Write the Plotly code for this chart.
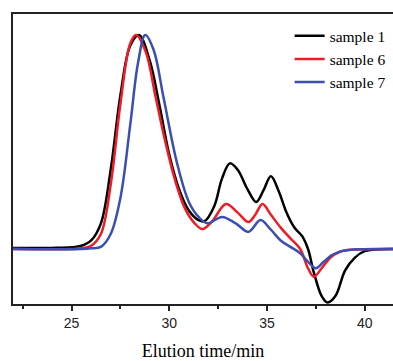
import plotly.graph_objects as go

# Data
x_s1 = [22, 24, 25, 25.5, 26, 26.5, 27, 27.5, 28, 28.45, 29, 29.5, 30, 30.5, 31, 31.5, 31.8,
        32.3, 32.7, 33.1, 33.5, 34, 34.45, 34.8, 35.2, 35.6, 36, 36.4, 36.8, 37.1, 37.4, 37.8,
        38.1, 38.5, 39, 39.5, 40, 41.5]
y_s1 = [0.005, 0.005, 0.008, 0.015, 0.04, 0.12, 0.37, 0.72, 0.95, 1.0, 0.88, 0.67, 0.44, 0.28,
        0.18, 0.135, 0.13, 0.2, 0.33, 0.40, 0.37, 0.28, 0.22, 0.27, 0.34, 0.27, 0.17, 0.10, 0.06,
        0.0, -0.11, -0.22, -0.25, -0.22, -0.10, -0.04, -0.01, 0]

x_s6 = [22, 25, 25.5, 26, 26.5, 27, 27.5, 28, 28.3, 28.8, 29.3, 29.8, 30.3, 30.8, 31.3, 31.7,
        32.2, 32.9, 33.5, 34.05, 34.4, 34.77, 35.2, 35.7, 36.2, 36.7, 37.1, 37.4, 37.8, 38.25,
        38.7, 39.1, 41.5]
y_s6 = [0, 0, 0.003, 0.015, 0.07, 0.30, 0.68, 0.96, 1.0, 0.92, 0.71, 0.50, 0.32, 0.19, 0.12,
        0.093, 0.13, 0.21, 0.17, 0.126, 0.16, 0.21, 0.16, 0.10, 0.05, 0.0, -0.09, -0.13, -0.09,
        -0.04, -0.015, -0.005, 0]

x_s7 = [22, 25.5, 26, 26.5, 27, 27.5, 28, 28.4, 28.77, 29.2, 29.7, 30.4, 31, 31.5, 31.95, 32.7,
        33.4, 34.05, 34.67, 35.2, 35.7, 36.2, 36.7, 37.1, 37.5, 37.9, 38.3, 38.8, 39.3, 41.5]
y_s7 = [0, 0, 0.003, 0.01, 0.07, 0.24, 0.58, 0.87, 1.0, 0.93, 0.71, 0.40, 0.22, 0.15, 0.12, 0.15,
        0.12, 0.08, 0.135, 0.09, 0.04, 0.01, -0.02, -0.06, -0.09, -0.06, -0.03, -0.01, -0.003, 0]

names = ["sample 1", "sample 6", "sample 7"]
colors = ["#000000", "#ee1c24", "#3a4fb0"]

fig = go.Figure()
for xs, ys, n, c in zip([x_s1, x_s6, x_s7], [y_s1, y_s6, y_s7], names, colors):
    fig.add_trace(go.Scatter(x=xs, y=ys, mode="lines", name=n,
                             line=dict(color=c, width=2.5, shape="spline", smoothing=1.0)))

fig.update_layout(
    width=393, height=361,
    margin=dict(l=13, r=0, t=14, b=57),
    paper_bgcolor="white", plot_bgcolor="white",
    showlegend=True,
    legend=dict(x=0.728, y=0.982, xanchor="left", yanchor="top",
                font=dict(family="Liberation Serif", size=15.5, color="black"),
                bgcolor="rgba(0,0,0,0)", tracegroupgap=0),
    xaxis=dict(range=[22, 41.45], showline=True, linecolor="#222", linewidth=2, mirror=True,
               ticks="outside", ticklen=5, tickwidth=1.5, tickcolor="#222",
               tick0=0, dtick=5, showgrid=False, zeroline=False,
               minor=dict(dtick=2.5, ticklen=3, tickwidth=1.5, tickcolor="#222", ticks="outside"),
               tickfont=dict(family="Liberation Sans", size=14, color="#222"),
               title=dict(text="Elution time/min", standoff=17,
                          font=dict(family="Liberation Serif", size=18, color="black"))),
    yaxis=dict(range=[-0.257, 1.098], showline=True, linecolor="#222", linewidth=2,
               showticklabels=False, ticks="", showgrid=False, zeroline=False),
)

fig.write_html("out.html")
